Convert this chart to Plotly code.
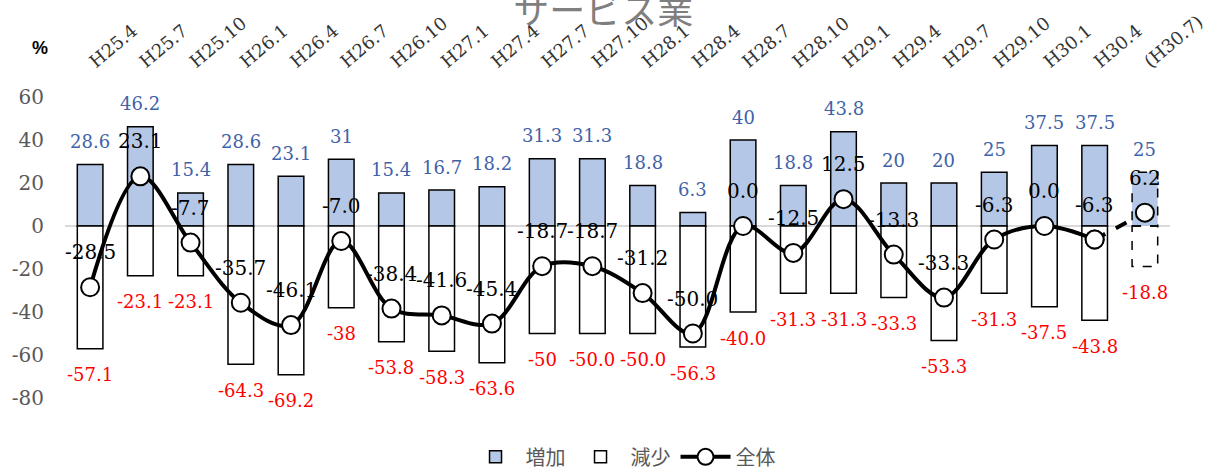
import plotly.graph_objects as go

categories = ["H25.4", "H25.7", "H25.10", "H26.1", "H26.4", "H26.7", "H26.10", "H27.1",
              "H27.4", "H27.7", "H27.10", "H28.1", "H28.4", "H28.7", "H28.10", "H29.1",
              "H29.4", "H29.7", "H29.10", "H30.1", "H30.4", "(H30.7)"]
increase = [28.6, 46.2, 15.4, 28.6, 23.1, 31, 15.4, 16.7, 18.2, 31.3, 31.3, 18.8,
            6.3, 40, 18.8, 43.8, 20, 20, 25, 37.5, 37.5, 25]
decrease = [-57.1, -23.1, -23.1, -64.3, -69.2, -38, -53.8, -58.3, -63.6, -50, -50.0, -50.0,
            -56.3, -40.0, -31.3, -31.3, -33.3, -53.3, -31.3, -37.5, -43.8, -18.8]
total = [-28.5, 23.1, -7.7, -35.7, -46.1, -7.0, -38.4, -41.6, -45.4, -18.7, -18.7, -31.2,
         -50.0, 0.0, -12.5, 12.5, -13.3, -33.3, -6.3, 0.0, -6.3, 6.2]
increase_labels = ["28.6", "46.2", "15.4", "28.6", "23.1", "31", "15.4", "16.7", "18.2", "31.3",
                   "31.3", "18.8", "6.3", "40", "18.8", "43.8", "20", "20", "25", "37.5", "37.5", "25"]
decrease_labels = ["-57.1", "-23.1", "-23.1", "-64.3", "-69.2", "-38", "-53.8", "-58.3", "-63.6",
                   "-50", "-50.0", "-50.0", "-56.3", "-40.0", "-31.3", "-31.3", "-33.3", "-53.3",
                   "-31.3", "-37.5", "-43.8", "-18.8"]
y_ticks = [60, 40, 20, 0, -20, -40, -60, -80]
y_tick_labels = ["60", "40", "20", "0", "-20", "-40", "-60", "-80"]

BAR_W = 0.51
SERIF = "DejaVu Serif"
n = len(categories)
last = n - 1

line_w = [1.5] * last + [0]

fig = go.Figure()
fig.add_trace(go.Bar(
    x=categories, y=increase, name="増加", width=BAR_W,
    marker=dict(color="#B4C7E7", line=dict(color="black", width=line_w)),
))
fig.add_trace(go.Bar(
    x=categories, y=decrease, name="減少", width=BAR_W,
    marker=dict(color="white", line=dict(color="black", width=line_w)),
))
# dashed outline for the forecast period
for vals in (increase, decrease):
    fig.add_shape(type="rect", xref="x", yref="y",
                  x0=last - BAR_W / 2, x1=last + BAR_W / 2, y0=0, y1=vals[last],
                  line=dict(color="black", width=1.5, dash="dash"), layer="above")

fig.add_trace(go.Scatter(
    x=categories[:last], y=total[:last], name="全体", mode="lines+markers",
    line=dict(color="black", width=4, shape="spline", smoothing=1),
    marker=dict(size=18, color="white", line=dict(color="black", width=2)),
))
fig.add_trace(go.Scatter(
    x=categories[last - 1:], y=total[last - 1:], mode="lines+markers", showlegend=False,
    line=dict(color="black", width=4, dash="dash"),
    marker=dict(size=18, color="white", line=dict(color="black", width=2)),
))

ann = []
for c, v, t in zip(categories, increase, increase_labels):
    ann.append(dict(x=c, y=v, text=t, showarrow=False, yshift=23,
                    font=dict(family=SERIF, size=18, color="#3F62A8")))
for c, v, t in zip(categories, decrease, decrease_labels):
    ann.append(dict(x=c, y=v, text=t, showarrow=False, yshift=-26,
                    font=dict(family=SERIF, size=18, color="#FF0000")))
for c, v in zip(categories, total):
    ann.append(dict(x=c, y=v, text=f"{v:.1f}", showarrow=False, yshift=35,
                    font=dict(family=SERIF, size=20, color="black")))
ann.append(dict(xref="paper", yref="paper", x=-0.0226, y=1.163, xanchor="center",
                yanchor="middle", text="<b>%</b>", showarrow=False,
                font=dict(family="Liberation Sans", size=18, color="black")))

fig.update_layout(
    width=1214, height=470,
    margin=dict(l=65, r=44, t=97, b=72, autoexpand=False),
    paper_bgcolor="white", plot_bgcolor="white",
    barmode="relative",
    title=dict(text="サービス業", x=0.497, xanchor="center", y=0.9766, yanchor="middle",
               font=dict(family="Noto Sans CJK JP", size=36, color="#7F7F7F")),
    xaxis=dict(type="category", side="top", tickangle=-40, showgrid=False, showline=False,
               ticks="outside", ticklen=18, tickcolor="rgba(0,0,0,0)", automargin=False,
               tickfont=dict(family=SERIF, size=18, color="#333333"),
               range=[-0.5, n - 0.5]),
    yaxis=dict(range=[-80, 60], tickvals=y_ticks, ticktext=y_tick_labels,
               showgrid=False, showline=False, automargin=False,
               zeroline=True, zerolinecolor="#D9D9D9", zerolinewidth=2,
               ticks="", ticklabelstandoff=20,
               tickfont=dict(family=SERIF, size=20, color="#595959")),
    legend=dict(orientation="h", x=0.505, xanchor="center", yref="container",
                y=0.028, yanchor="middle",
                font=dict(family="Noto Sans CJK JP", size=20, color="#595959"),
                itemwidth=50, traceorder="normal"),
    annotations=ann,
    showlegend=True,
)

fig.write_html("out.html")
